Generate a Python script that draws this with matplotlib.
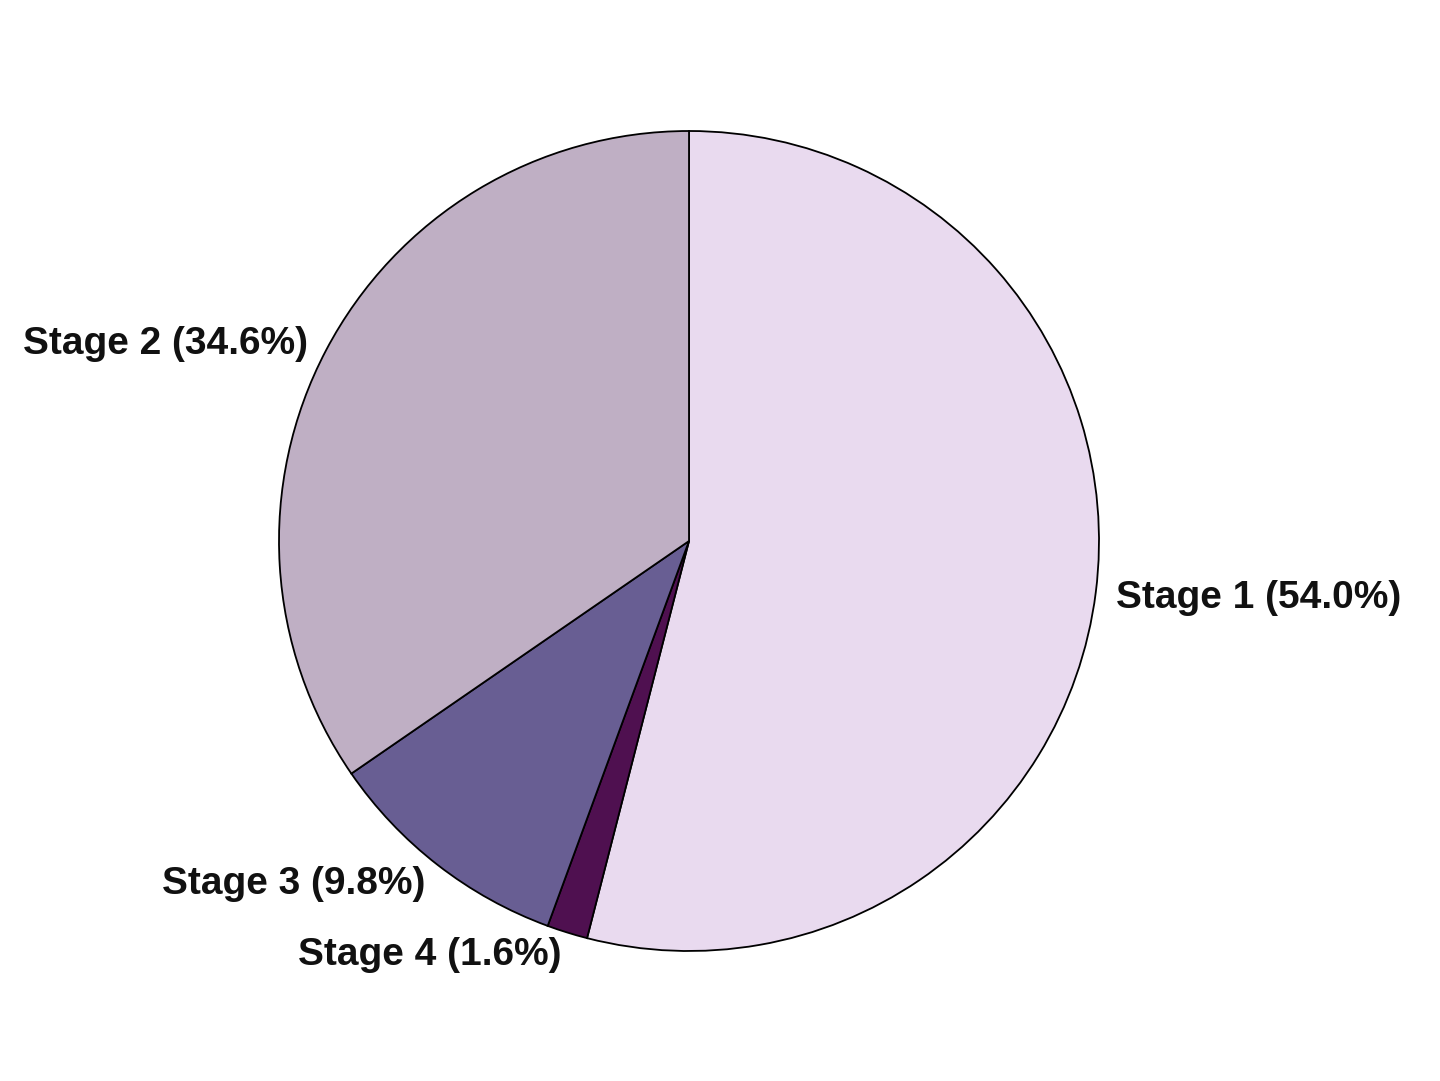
import matplotlib
matplotlib.use("Agg")
import matplotlib.pyplot as plt

labels = ["Stage 1 (54.0%)", "Stage 4 (1.6%)", "Stage 3 (9.8%)", "Stage 2 (34.6%)"]
values = [54.0, 1.6, 9.8, 34.6]
colors = ["#E9DAEF", "#4F1050", "#685E93", "#BFAFC4"]

W, H = 1440, 1081
fig = plt.figure(figsize=(W / 100, H / 100), dpi=100)
cx, cy, R = 689, 541, 410
ax = fig.add_axes([(cx - R) / W, (H - cy - R) / H, 2 * R / W, 2 * R / H])
wedges, texts = ax.pie(values, labels=labels, colors=colors, startangle=90, counterclock=False,
       labeldistance=1.05, radius=1.0,
       wedgeprops=dict(edgecolor="black", linewidth=1.3),
       textprops=dict(fontsize=28, fontweight="bold", family="Liberation Sans", color="#111111"))
for t in texts:
    x, y = t.get_position()
    t.set_position((x, y - 0.008))
ax.set_xlim(-1, 1)
ax.set_ylim(-1, 1)
ax.set_aspect("equal")
ax.axis("off")
fig.savefig("out.png", dpi=100, facecolor="white")
